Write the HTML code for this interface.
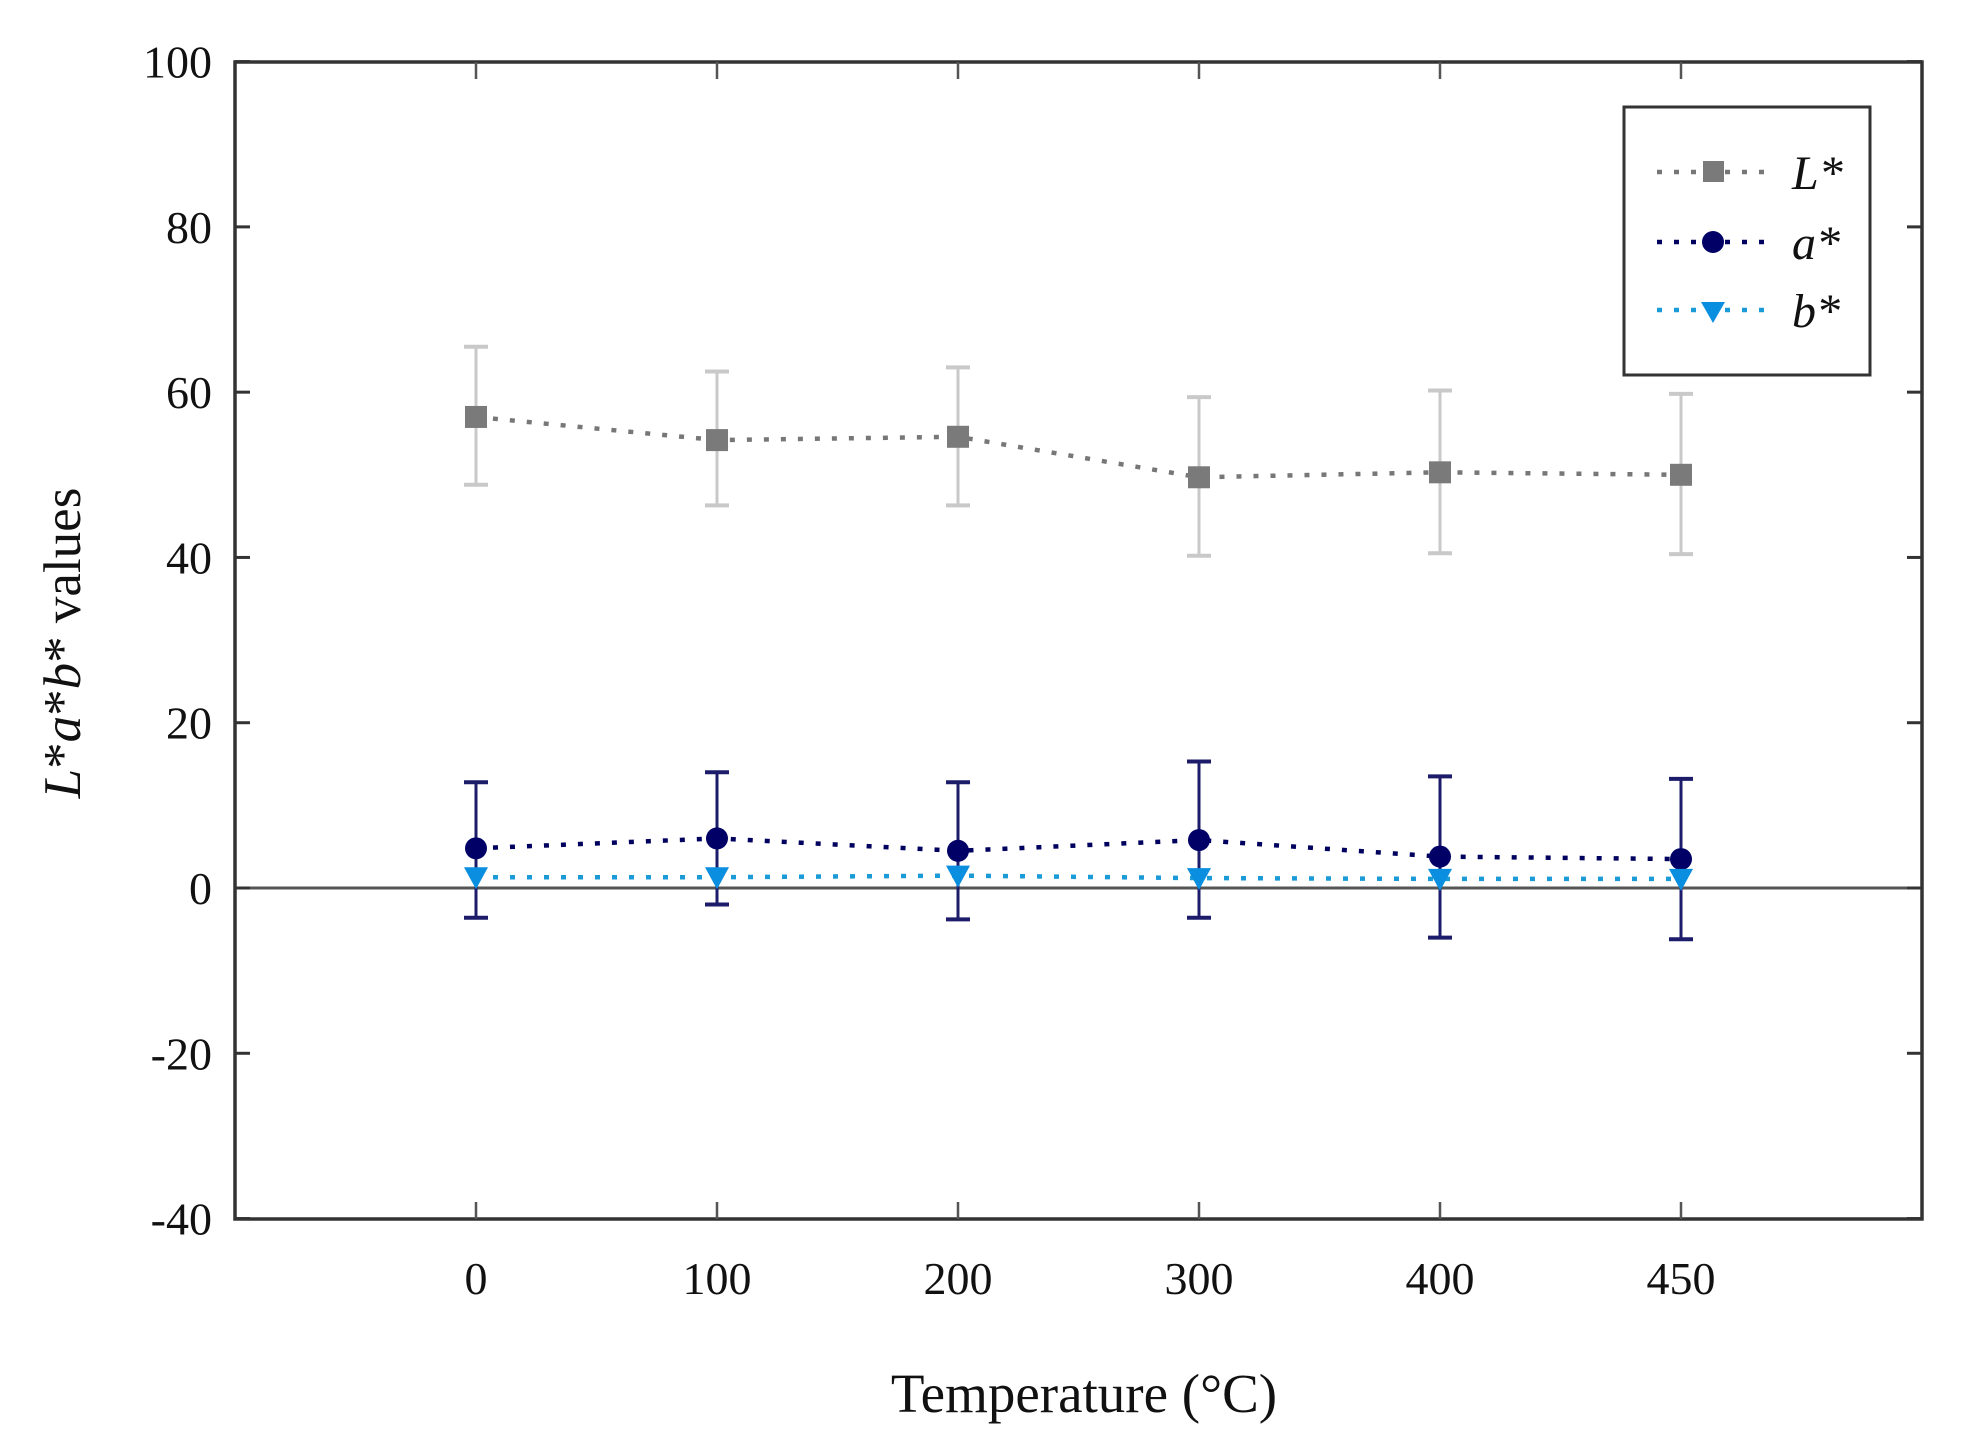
<!DOCTYPE html>
<html><head><meta charset="utf-8"><style>
html,body{margin:0;padding:0;background:#fff;width:1966px;height:1455px;overflow:hidden}
svg{display:block}
text{font-family:"Liberation Serif",serif;fill:#111}
</style></head><body>
<svg id="s" width="1966" height="1455" viewBox="0 0 1966 1455" xmlns="http://www.w3.org/2000/svg"></svg>
<script>
const s=document.getElementById('s');
const Y=v=>888-v*8.264;
const X=[476,717,958,1199,1440,1681];
let h='';
h+='<rect x="235" y="62" width="1687" height="1157" fill="none" stroke="#333" stroke-width="3.5"/>';
h+='<line x1="235" y1="888" x2="1922" y2="888" stroke="#555" stroke-width="3"/>';
for(let v=-40;v<=100;v+=20){const y=Y(v);
 h+=`<line x1="235" y1="${y}" x2="250" y2="${y}" stroke="#333" stroke-width="3"/>`;
 h+=`<line x1="1907" y1="${y}" x2="1922" y2="${y}" stroke="#333" stroke-width="3"/>`;
 h+=`<text x="212" y="${y+16}" font-size="46" text-anchor="end">${v}</text>`;}
const lab=['0','100','200','300','400','450'];
X.forEach((x,i)=>{
 h+=`<line x1="${x}" y1="1219" x2="${x}" y2="1202" stroke="#555" stroke-width="2.5"/>`;
 h+=`<line x1="${x}" y1="62" x2="${x}" y2="79" stroke="#555" stroke-width="2.5"/>`;
 h+=`<text x="${x}" y="1294" font-size="46" text-anchor="middle">${lab[i]}</text>`;});
h+='<text x="1084" y="1412" font-size="55" text-anchor="middle">Temperature (°C)</text>';
h+='<text transform="translate(80,643) rotate(-90)" font-size="53" text-anchor="middle"><tspan font-style="italic">L</tspan>*<tspan font-style="italic">a</tspan>*<tspan font-style="italic">b</tspan>* values</text>';
const L=[57,54.2,54.6,49.7,50.3,50],Lt=[65.5,62.5,63,59.4,60.2,59.8],Lb=[48.8,46.3,46.3,40.2,40.5,40.4];
const A=[4.8,6,4.5,5.8,3.8,3.5],At=[12.8,14,12.8,15.3,13.5,13.2],Ab=[-3.6,-2,-3.8,-3.6,-6,-6.2];
const B=[1.3,1.3,1.5,1.2,1.1,1.1];
function eb(t,b,c,w){X.forEach((x,i)=>{h+=`<line x1="${x}" y1="${Y(t[i])}" x2="${x}" y2="${Y(b[i])}" stroke="${c}" stroke-width="${w}"/><line x1="${x-12}" y1="${Y(t[i])}" x2="${x+12}" y2="${Y(t[i])}" stroke="${c}" stroke-width="${w+1}"/><line x1="${x-12}" y1="${Y(b[i])}" x2="${x+12}" y2="${Y(b[i])}" stroke="${c}" stroke-width="${w+1}"/>`;});}
function ln(d,c){h+=`<polyline points="${X.map((x,i)=>x+','+Y(d[i])).join(' ')}" fill="none" stroke="${c}" stroke-width="4.5" stroke-dasharray="5 12"/>`;}
eb(Lt,Lb,'#c9c9c9',3);
eb(At,Ab,'#1c1c6a',3);
ln(L,'#777');ln(A,'#00005e');ln(B,'#1a9ad6');
X.forEach((x,i)=>{
 h+=`<rect x="${x-11}" y="${Y(L[i])-11}" width="22" height="22" fill="#7a7a7a"/>`;
 h+=`<circle cx="${x}" cy="${Y(A[i])}" r="11" fill="#000066"/>`;
 const y=Y(B[i]);h+=`<polygon points="${x-12},${y-10} ${x+12},${y-10} ${x},${y+12}" fill="#0a8ee0"/>`;});
h+='<rect x="1624" y="107" width="246" height="268" fill="#fff" stroke="#333" stroke-width="3"/>';
const lg=[[172,'#777','L'],[242,'#00005e','a'],[310,'#1a9ad6','b']];
lg.forEach(([y,c,t],k)=>{
 h+=`<line x1="1657" y1="${y}" x2="1767" y2="${y}" stroke="${c}" stroke-width="4.5" stroke-dasharray="5 12"/>`;
 if(k==0)h+=`<rect x="1703" y="${y-11}" width="21" height="21" fill="#7a7a7a"/>`;
 if(k==1)h+=`<circle cx="1713" cy="${y}" r="11" fill="#000066"/>`;
 if(k==2)h+=`<polygon points="1701,${y-8} 1725,${y-8} 1713,${y+13}" fill="#0a8ee0"/>`;
 h+=`<text x="1792" y="${y+17}" font-size="48" font-style="italic" fill="#333">${t}*</text>`;});
s.innerHTML=h;
</script>
</body></html>
